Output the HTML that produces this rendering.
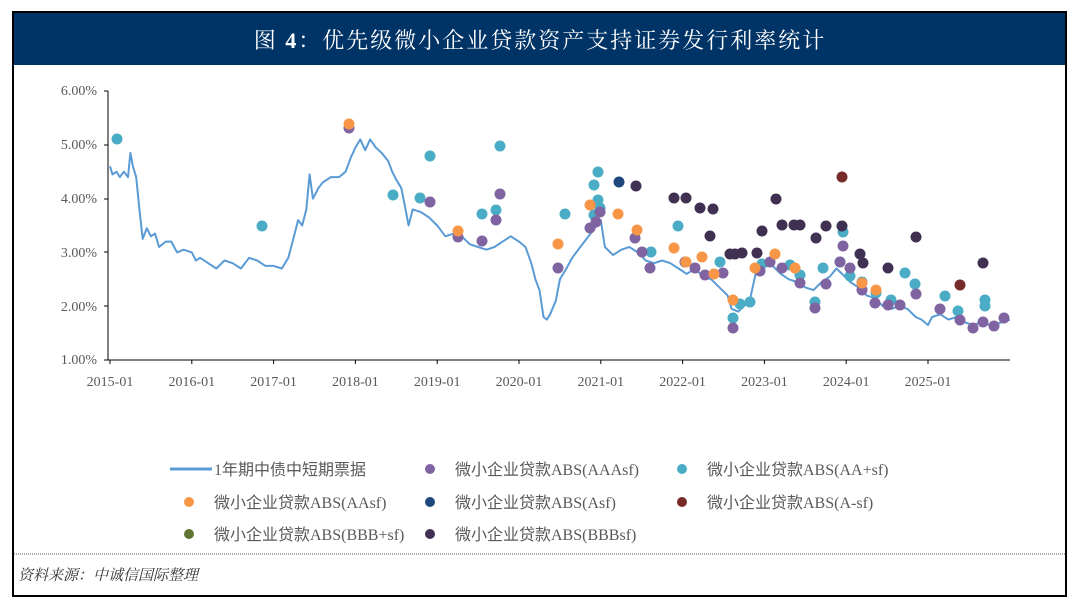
<!DOCTYPE html>
<html><head><meta charset="utf-8"><style>
body{margin:0;background:#fff;width:1080px;height:609px;overflow:hidden;font-family:"Liberation Serif","Noto Serif CJK SC",serif}
</style></head><body>
<svg id="s" width="1080" height="609" xmlns="http://www.w3.org/2000/svg">
<rect x="13" y="12" width="1053" height="584" fill="#fff" stroke="#000" stroke-width="2"/>
<rect x="14" y="13" width="1051" height="52" fill="#003366"/>
<text x="540" y="48" fill="#fff" font-size="22" text-anchor="middle" font-family="Liberation Serif,Noto Serif CJK SC,serif" letter-spacing="2">图 <tspan font-weight="bold">4</tspan>：优先级微小企业贷款资产支持证券发行利率统计</text>
<g font-size="14" fill="#595959" text-anchor="end" font-family="Liberation Serif,serif">
<text x="97" y="95">6.00%</text><text x="97" y="149">5.00%</text><text x="97" y="203">4.00%</text><text x="97" y="257">3.00%</text><text x="97" y="311">2.00%</text><text x="97" y="364">1.00%</text>
</g>
<g stroke="#000" stroke-width="1">
<line x1="108" y1="91" x2="108" y2="360"/><line x1="108" y1="360" x2="1010" y2="360"/>
<line x1="104" y1="91" x2="108" y2="91"/><line x1="104" y1="145" x2="108" y2="145"/><line x1="104" y1="199" x2="108" y2="199"/><line x1="104" y1="252" x2="108" y2="252"/><line x1="104" y1="306" x2="108" y2="306"/><line x1="104" y1="360" x2="108" y2="360"/>
</g>
<g id="xt" font-size="14" fill="#595959" text-anchor="middle"></g>
<polyline id="ln" fill="none" stroke="#5b9bd5" stroke-width="2" stroke-linejoin="round"/>
<g id="dots"></g>
<g font-size="16" fill="#595959" font-family="Liberation Serif,Noto Sans CJK SC,sans-serif">
<line x1="170" y1="469" x2="212" y2="469" stroke="#5b9bd5" stroke-width="3"/><text x="214" y="475">1年期中债中短期票据</text>
<circle cx="430" cy="469" r="5" fill="#8064a2"/><text x="455" y="475">微小企业贷款ABS(AAAsf)</text>
<circle cx="682" cy="469" r="5" fill="#4bacc6"/><text x="707" y="475">微小企业贷款ABS(AA+sf)</text>
<circle cx="189" cy="502" r="5" fill="#f79646"/><text x="214" y="508">微小企业贷款ABS(AAsf)</text>
<circle cx="430" cy="502" r="5" fill="#1f497d"/><text x="455" y="508">微小企业贷款ABS(Asf)</text>
<circle cx="682" cy="502" r="5" fill="#772c2a"/><text x="707" y="508">微小企业贷款ABS(A-sf)</text>
<circle cx="189" cy="534" r="5" fill="#5f7530"/><text x="214" y="540">微小企业贷款ABS(BBB+sf)</text>
<circle cx="430" cy="534" r="5" fill="#403152"/><text x="455" y="540">微小企业贷款ABS(BBBsf)</text>
</g>
<line x1="14" y1="554" x2="1065" y2="554" stroke="#555" stroke-dasharray="1,1"/>
<text x="18" y="580" font-size="15" fill="#333" font-style="italic" font-family="Liberation Serif,Noto Serif CJK SC,serif">资料来源：中诚信国际整理</text>
</svg>
<script>
var X=t=>110+81.8*(t-2015),Y=v=>360-53.8*(v-1);
var xt=document.getElementById('xt');
for(var i=0;i<=10;i++){var x=X(2015+i);xt.innerHTML+='<text x="'+x+'" y="386">'+(2015+i)+'-01</text><line x1="'+x+'" y1="360" x2="'+x+'" y2="364" stroke="#000"/>';}
var d=[2015.0,4.6,2015.03,4.45,2015.08,4.5,2015.12,4.4,2015.17,4.5,2015.22,4.4,2015.25,4.85,2015.28,4.6,2015.32,4.4,2015.36,3.8,2015.4,3.25,2015.45,3.45,2015.5,3.3,2015.55,3.35,2015.6,3.1,2015.68,3.2,2015.75,3.2,2015.82,3.0,2015.9,3.05,2016.0,3.0,2016.05,2.85,2016.1,2.9,2016.2,2.8,2016.3,2.7,2016.4,2.85,2016.5,2.8,2016.6,2.7,2016.7,2.9,2016.8,2.85,2016.9,2.75,2017.0,2.75,2017.1,2.7,2017.18,2.9,2017.25,3.3,2017.3,3.6,2017.35,3.5,2017.4,3.8,2017.44,4.45,2017.48,4.0,2017.55,4.2,2017.6,4.3,2017.7,4.4,2017.8,4.4,2017.88,4.5,2017.94,4.75,2018.0,4.95,2018.06,5.1,2018.12,4.9,2018.18,5.1,2018.25,4.95,2018.32,4.85,2018.4,4.7,2018.45,4.5,2018.5,4.35,2018.56,4.2,2018.6,3.9,2018.65,3.5,2018.7,3.8,2018.8,3.75,2018.9,3.65,2019.0,3.5,2019.1,3.3,2019.2,3.35,2019.3,3.3,2019.4,3.15,2019.5,3.1,2019.6,3.05,2019.7,3.1,2019.8,3.2,2019.9,3.3,2020.0,3.2,2020.08,3.1,2020.15,2.8,2020.2,2.5,2020.25,2.3,2020.3,1.8,2020.34,1.75,2020.38,1.85,2020.45,2.1,2020.5,2.5,2020.58,2.7,2020.65,2.9,2020.75,3.1,2020.85,3.3,2020.95,3.5,2021.0,3.6,2021.05,3.1,2021.15,2.95,2021.25,3.05,2021.35,3.1,2021.45,3.0,2021.55,2.85,2021.65,2.8,2021.75,2.85,2021.85,2.8,2021.95,2.7,2022.05,2.6,2022.15,2.7,2022.25,2.55,2022.35,2.5,2022.45,2.35,2022.55,2.2,2022.6,1.95,2022.68,1.9,2022.75,2.0,2022.82,2.1,2022.9,2.65,2023.0,2.75,2023.1,2.75,2023.2,2.6,2023.3,2.5,2023.4,2.45,2023.5,2.35,2023.6,2.3,2023.7,2.45,2023.8,2.55,2023.88,2.7,2023.95,2.6,2024.05,2.45,2024.15,2.35,2024.25,2.2,2024.35,2.15,2024.45,2.0,2024.55,1.95,2024.65,2.0,2024.75,1.95,2024.85,1.8,2024.92,1.75,2025.0,1.65,2025.05,1.8,2025.15,1.85,2025.25,1.75,2025.35,1.8,2025.45,1.7,2025.55,1.65,2025.65,1.7,2025.75,1.65,2025.85,1.68,2025.95,1.72,2026.0,1.75];
var p='';for(var i=0;i<d.length;i+=2)p+=X(d[i]).toFixed(1)+','+Y(d[i+1]).toFixed(1)+' ';
document.getElementById('ln').setAttribute('points',p);
var S={'#4bacc6':[[117,139],[262,226],[393,195],[420,198],[430,156],[482,214],[496,210],[500,146],[565,214],[594,185],[598,200],[594,215],[651,252],[678,226],[720,262],[733,318],[740,304],[750,302],[762,264],[790,265],[800,275],[815,302],[823,268],[840,262],[843,232],[850,276],[862,282],[876,293],[891,300],[905,273],[915,284],[945,296],[958,311],[985,306],[985,300],[598,172],[600,208]],
'#8064a2':[[349,128],[430,202],[458,237],[482,241],[496,220],[500,194],[558,268],[590,228],[596,222],[600,212],[635,238],[642,252],[650,268],[685,262],[695,268],[705,275],[723,273],[733,328],[760,271],[770,262],[782,268],[800,283],[815,308],[826,284],[840,262],[843,246],[850,268],[862,290],[875,303],[888,305],[900,305],[916,294],[940,309],[960,320],[973,328],[983,322],[994,326],[1004,318]],
'#f79646':[[349,124],[458,231],[558,244],[590,205],[618,214],[637,230],[674,248],[686,262],[702,257],[714,274],[733,300],[755,268],[775,254],[795,268],[862,283],[876,290]],
'#1f497d':[[619,182]],'#772c2a':[[842,177],[960,285]],
'#403152':[[636,186],[674,198],[686,198],[700,208],[713,209],[710,236],[730,254],[735,254],[742,253],[757,253],[762,231],[776,199],[782,225],[794,225],[800,225],[816,238],[826,226],[842,226],[860,254],[863,263],[888,268],[916,237],[983,263]]};
var g='';for(var c in S)S[c].forEach(q=>g+='<circle cx="'+q[0]+'" cy="'+q[1]+'" r="5.5" fill="'+c+'"/>');
document.getElementById('dots').innerHTML=g;
</script>
</body></html>
